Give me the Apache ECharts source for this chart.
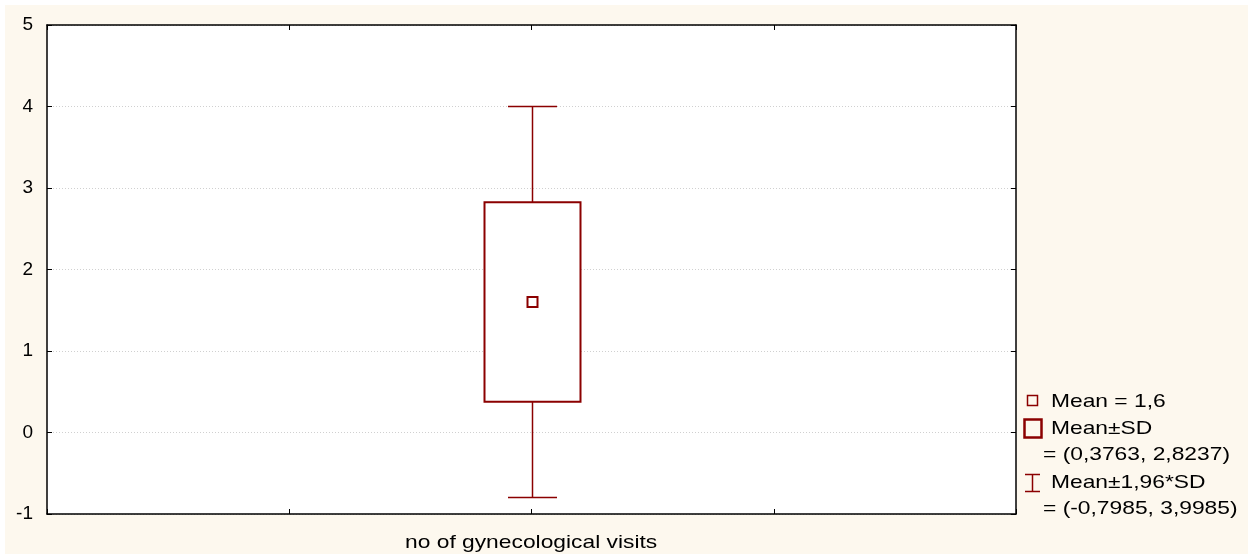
<!DOCTYPE html>
<html><head><meta charset="utf-8">
<script src="https://cdn.jsdelivr.net/npm/echarts@6/dist/echarts.min.js"></script>
<style>html,body{margin:0;padding:0;background:#fff}#c{width:1253px;height:559px}</style>
</head><body><div id="c"></div>
<script>
var categories = ['no of gynecological visits'];
var meanVals = [1.6];
var sdLow = [0.3763];
var sdHigh = [2.8237];
var ciLow = [-0.7985];
var ciHigh = [3.9985];
var yTicks = [-1, 0, 1, 2, 3, 4, 5];
var legendTexts = ['Mean = 1,6', 'Mean\u00b1SD', '= (0,3763, 2,8237)', 'Mean\u00b11,96*SD', '= (-0,7985, 3,9985)'];

var RED = '#8b0000';
var FONT = '19px "Liberation Sans", Arial';
var chart = echarts.init(document.getElementById('c'));
var data = categories.map(function (c, i) { return [2, meanVals[i], sdLow[i], sdHigh[i], ciLow[i], ciHigh[i]]; });

function txt(t, x, y, align) {
  return { type: 'text', x: x, y: y, scaleX: 1.2, originX: 0, originY: 0,
    style: { text: t, font: FONT, fill: '#000', verticalAlign: 'middle', align: align || 'left' } };
}

chart.setOption({
  backgroundColor: '#fff',
  animation: false,
  graphic: [
    { type: 'rect', z: -10, silent: true, shape: { x: 5, y: 5, width: 1243, height: 549 }, style: { fill: '#fdf8ee' } },
    { type: 'rect', z: -5, silent: true, shape: { x: 47, y: 25, width: 969, height: 489 }, style: { fill: '#fff' } },
    { type: 'rect', shape: { x: 1027.5, y: 395.5, width: 10, height: 10 }, style: { fill: 'none', stroke: RED, lineWidth: 1.5 } },
    { type: 'rect', shape: { x: 1024.5, y: 419.5, width: 17, height: 18 }, style: { fill: 'none', stroke: RED, lineWidth: 2.5 } },
    { type: 'polyline', shape: { points: [[1025, 474.5], [1040, 474.5]] }, style: { stroke: RED, lineWidth: 1.5 } },
    { type: 'polyline', shape: { points: [[1025, 491.5], [1040, 491.5]] }, style: { stroke: RED, lineWidth: 1.5 } },
    { type: 'polyline', shape: { points: [[1032.5, 474.5], [1032.5, 491.5]] }, style: { stroke: RED, lineWidth: 1.5 } },
    txt(legendTexts[0], 1051, 402),
    txt(legendTexts[1], 1051, 428.5),
    txt(legendTexts[2], 1043, 455),
    txt(legendTexts[3], 1051, 482.5),
    txt(legendTexts[4], 1043, 509),
    txt(categories[0], 405, 543)
  ],
  grid: { left: 47, right: 237, top: 25, bottom: 45, containLabel: false, outerBoundsMode: 'none' },
  xAxis: [
    { type: 'value', min: 0, max: 4, interval: 1, position: 'bottom',
      axisLine: { onZero: false, lineStyle: { color: '#000', width: 1.5 } },
      axisTick: { inside: true, length: 5, lineStyle: { color: '#000' } },
      axisLabel: { show: false }, splitLine: { show: false } },
    { type: 'value', min: 0, max: 4, interval: 1, position: 'top',
      axisLine: { onZero: false, lineStyle: { color: '#000', width: 1.5 } },
      axisTick: { inside: true, length: 5, lineStyle: { color: '#000' } },
      axisLabel: { show: false }, splitLine: { show: false } }
  ],
  yAxis: [
    { type: 'value', min: yTicks[0], max: yTicks[yTicks.length - 1], interval: 1, position: 'left',
      axisLine: { onZero: false, lineStyle: { color: '#000', width: 1.5 } },
      axisTick: { inside: true, length: 5, lineStyle: { color: '#000' } },
      axisLabel: { fontFamily: 'Liberation Sans', fontSize: 19, color: '#000', margin: 14 },
      splitLine: { show: true, lineStyle: { color: '#d0d0d0', type: [1, 2], width: 1 } } },
    { type: 'value', min: yTicks[0], max: yTicks[yTicks.length - 1], interval: 1, position: 'right',
      axisLine: { onZero: false, lineStyle: { color: '#000', width: 1.5 } },
      axisTick: { inside: true, length: 5, lineStyle: { color: '#000' } },
      axisLabel: { show: false }, splitLine: { show: false } }
  ],
  series: [{
    type: 'custom',
    xAxisIndex: 0, yAxisIndex: 0,
    data: data,
    renderItem: function (params, api) {
      var x = api.value(0);
      var pm = api.coord([x, api.value(1)]);
      var pl = api.coord([x, api.value(2)]);
      var ph = api.coord([x, api.value(3)]);
      var wl = api.coord([x, api.value(4)]);
      var wh = api.coord([x, api.value(5)]);
      var bw = 48, cw = 24.5, mw = 5;
      var cx = Math.round(pm[0]) + 0.5;
      return { type: 'group', children: [
        { type: 'line', shape: { x1: cx, y1: wh[1], x2: cx, y2: ph[1] }, style: { stroke: RED, lineWidth: 1.5 } },
        { type: 'line', shape: { x1: cx, y1: pl[1], x2: cx, y2: wl[1] }, style: { stroke: RED, lineWidth: 1.5 } },
        { type: 'line', shape: { x1: cx - cw, y1: wh[1], x2: cx + cw, y2: wh[1] }, style: { stroke: RED, lineWidth: 1.5 } },
        { type: 'line', shape: { x1: cx - cw, y1: wl[1], x2: cx + cw, y2: wl[1] }, style: { stroke: RED, lineWidth: 1.5 } },
        { type: 'rect', shape: { x: cx - bw, y: ph[1], width: bw * 2, height: pl[1] - ph[1] }, style: { fill: '#fff', stroke: RED, lineWidth: 2 } },
        { type: 'rect', shape: { x: cx - mw, y: pm[1] - mw, width: mw * 2, height: mw * 2 }, style: { fill: 'none', stroke: RED, lineWidth: 2 } }
      ] };
    }
  }]
});
</script></body></html>
